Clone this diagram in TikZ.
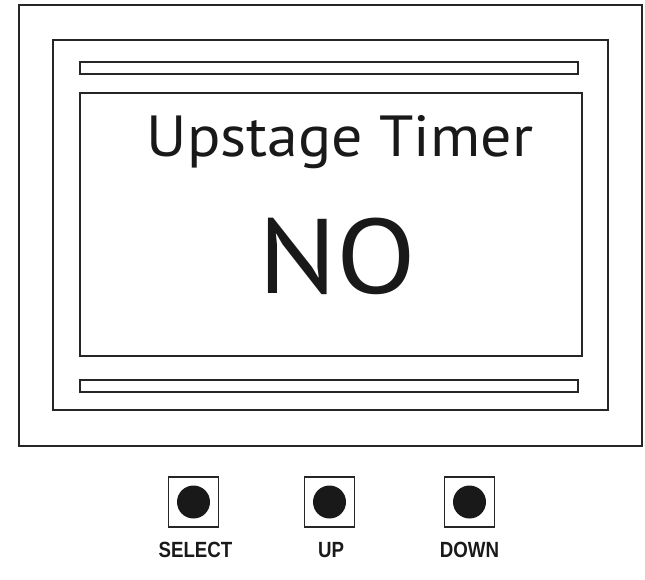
\documentclass[tikz,border=0pt]{standalone}
\usepackage{fontspec}
\setmainfont{PT Sans}
\newfontfamily\titlefont[FakeStretch=1.067]{PT Sans}
\newfontfamily\statefont[FakeStretch=1.1]{PT Sans}
\newfontfamily\btnfont[FakeStretch=0.85]{Liberation Sans}
\usetikzlibrary{positioning}
\tikzstyle{frame} = [draw=black!85, line width=1.9pt]
\tikzstyle{bar} = [draw=black!85, line width=1.3pt]
\tikzstyle{screentext} = [anchor=base, inner sep=0pt, text=black!90]
\tikzstyle{button} = [rectangle, draw=black!85, line width=1.5pt, minimum size=50pt, inner sep=0pt, outer sep=0pt]
\tikzstyle{dot} = [circle, fill=black!90, minimum size=33pt, inner sep=0pt]
\tikzstyle{btnlabel} = [font=\btnfont\bfseries\fontsize{22}{24}\selectfont, inner sep=0pt, text=black!90]

\begin{document}
\begin{tikzpicture}[x=1pt, y=-1pt]
\useasboundingbox (0,0) rectangle (645,579);

% Marcos de la pantalla
\draw [frame] (19,5) rectangle (642,446);
\draw [frame] (53,40) rectangle (608,410);
\draw [bar] (80,62) rectangle (578,74);
\draw [bar] (80,93) rectangle (582,356);
\draw [bar] (80,380) rectangle (578,392);

% Textos de la pantalla
\node (title) [screentext, font=\titlefont\fontsize{58}{60}\selectfont] at (340,156) {Upstage Timer};
\node (state) [screentext, font=\statefont\fontsize{106}{110}\selectfont] at (337.5,293) {NO};

% Botones
\node (selectbtn) [button] at (193.5,502) {};
\node (upbtn) [button, right=86pt of selectbtn] {};
\node (downbtn) [button, right=90pt of upbtn] {};
\node (selectdot) [dot] at (selectbtn) {};
\node (updot) [dot] at (upbtn) {};
\node (downdot) [dot] at (downbtn) {};

% Etiquetas
\node (selectlbl) [btnlabel, below=15pt of selectbtn, xshift=2pt] {SELECT};
\node (uplbl) [btnlabel, below=15pt of upbtn, xshift=1.5pt] {UP};
\node (downlbl) [btnlabel, below=15pt of downbtn] {DOWN};

\end{tikzpicture}
\end{document}
